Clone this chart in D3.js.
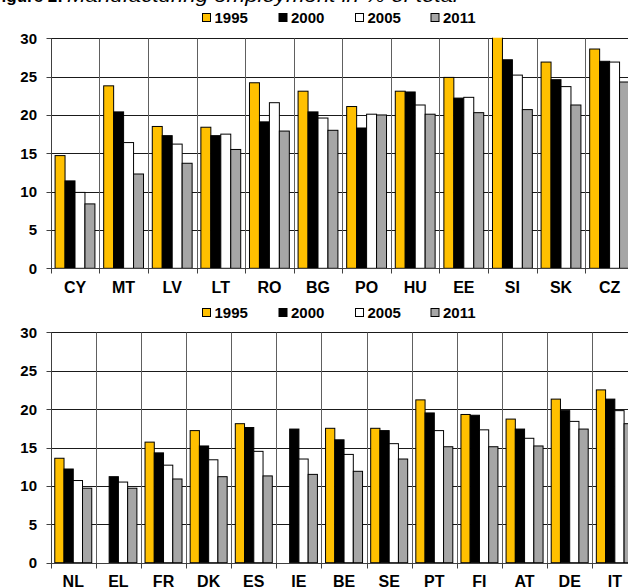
<!DOCTYPE html>
<html>
<head>
<meta charset="utf-8">
<script src="https://cdn.jsdelivr.net/npm/d3@7/dist/d3.min.js"></script>
<style>
  html, body { margin: 0; padding: 0; background: #fff; }
  svg { display: block; overflow: hidden; }
  text { font-family: "Liberation Sans", Arial, sans-serif; }
</style>
</head>
<body>
<div id="chart"></div>
<script>
// ---------- DATA ----------
const seriesNames = ["1995", "2000", "2005", "2011"];
const seriesColors = ["#FFC000", "#000000", "#FFFFFF", "#A6A6A6"];
const yTicks = [0, 5, 10, 15, 20, 25, 30];

const topCategories = ["CY", "MT", "LV", "LT", "RO", "BG", "PO", "HU", "EE", "SI", "SK", "CZ"];
const top1995 = [14.7, 23.8, 18.5, 18.4, 24.2, 23.1, 21.1, 23.1, 24.9, 30.4, 26.9, 28.6];
const top2000 = [11.4, 20.4, 17.3, 17.3, 19.1, 20.4, 18.3, 23.0, 22.2, 27.2, 24.6, 27.0];
const top2005 = [9.9, 16.4, 16.2, 17.5, 21.6, 19.6, 20.1, 21.3, 22.3, 25.2, 23.7, 26.9];
const top2011 = [8.4, 12.3, 13.7, 15.5, 17.9, 18.0, 20.0, 20.1, 20.3, 20.7, 21.3, 24.3];

const bottomCategories = ["NL", "EL", "FR", "DK", "ES", "IE", "BE", "SE", "PT", "FI", "AT", "DE", "IT"];
const bottom1995 = [13.6, null, 15.7, 17.2, 18.1, null, 17.5, 17.5, 21.2, 19.3, 18.7, 21.3, 22.5];
const bottom2000 = [12.2, 11.2, 14.3, 15.2, 17.6, 17.4, 16.0, 17.2, 19.5, 19.2, 17.4, 19.8, 21.3];
const bottom2005 = [10.7, 10.5, 12.7, 13.4, 14.5, 13.5, 14.1, 15.5, 17.2, 17.3, 16.2, 18.4, 19.8];
const bottom2011 = [9.7, 9.7, 10.9, 11.2, 11.3, 11.5, 11.9, 13.5, 15.1, 15.1, 15.2, 17.4, 18.1];

// ---------- DRAW ----------
const W = 628, H = 588;
const svg = d3.select("#chart").append("svg").attr("width", W).attr("height", H);

// Title (mostly cut off at the top of the picture, as in the reference)
svg.append("text").attr("x", 63).attr("y", 1.5).attr("text-anchor", "end")
  .attr("font-size", 17).attr("font-weight", "bold").attr("fill", "#000")
  .text("Figure 2:");
svg.append("text").attr("x", 67).attr("y", 1.5)
  .attr("font-size", 18).attr("font-style", "italic").attr("fill", "#000")
  .attr("textLength", 391).attr("lengthAdjust", "spacingAndGlyphs")
  .text("Manufacturing employment in % of total");

function drawPanel(cfg) {
  const g = svg.append("g");
  const x = d3.scaleBand().domain(cfg.categories).range([cfg.x0, cfg.x1]).padding(0);
  const xs = d3.scaleBand().domain(seriesNames).range([0, x.bandwidth()])
    .paddingInner(0).paddingOuter(0.44);
  const y = d3.scaleLinear().domain([0, 30]).range([cfg.yZero, cfg.yTop]);

  const clipId = "clip" + cfg.id;
  svg.append("clipPath").attr("id", clipId).append("rect")
    .attr("x", cfg.x0).attr("y", cfg.yTop - 0.5)
    .attr("width", cfg.x1 - cfg.x0 + 10).attr("height", cfg.yZero - cfg.yTop + 1);

  // horizontal gridlines
  g.selectAll(".hg").data(yTicks.filter(d => d > 0)).enter().append("line")
    .attr("x1", cfg.x0).attr("x2", cfg.x1)
    .attr("y1", d => Math.round(y(d)) + 0.5).attr("y2", d => Math.round(y(d)) + 0.5)
    .attr("stroke", "#1a1a1a").attr("stroke-width", 1);

  // vertical gridlines at category boundaries
  const bounds = cfg.categories.map(c => x(c)).concat([cfg.x1]);
  g.selectAll(".vg").data(bounds.slice(1)).enter().append("line")
    .attr("x1", d => Math.round(d) + 0.5).attr("x2", d => Math.round(d) + 0.5)
    .attr("y1", Math.round(y(30)) + 0.5).attr("y2", Math.round(y(0)) + 0.5)
    .attr("stroke", "#606060").attr("stroke-width", 1);

  // bars
  const bars = g.append("g").attr("clip-path", `url(#${clipId})`);
  cfg.series.forEach((vals, si) => {
    bars.selectAll(".b" + si)
      .data(cfg.categories.map((c, i) => ({ c, v: vals[i] })).filter(d => d.v != null))
      .enter().append("rect")
      .attr("x", d => x(d.c) + xs(seriesNames[si]))
      .attr("width", xs.bandwidth())
      .attr("y", d => y(Math.min(d.v, 30.6)))
      .attr("height", d => y(0) - y(Math.min(d.v, 30.6)))
      .attr("fill", seriesColors[si])
      .attr("stroke", "#000").attr("stroke-width", 1);
  });

  // y axis line + ticks
  const ax = Math.round(cfg.x0) + 0.5;
  g.append("line").attr("x1", ax).attr("x2", ax)
    .attr("y1", Math.round(y(30)) + 0.5).attr("y2", Math.round(y(0)) + 0.5)
    .attr("stroke", "#404040");
  g.selectAll(".yt").data(yTicks).enter().append("line")
    .attr("x1", ax - 5).attr("x2", ax)
    .attr("y1", d => Math.round(y(d)) + 0.5).attr("y2", d => Math.round(y(d)) + 0.5)
    .attr("stroke", "#404040");
  g.selectAll(".yl").data(yTicks).enter().append("text")
    .attr("x", 37).attr("y", d => y(d)).attr("dy", "0.36em")
    .attr("text-anchor", "end").attr("font-size", 15).attr("font-weight", "bold")
    .attr("fill", "#000").text(d => d);

  // x axis line + ticks
  const zy = Math.round(y(0)) + 0.5;
  g.append("line").attr("x1", cfg.x0).attr("x2", cfg.x1).attr("y1", zy).attr("y2", zy)
    .attr("stroke", "#404040");
  g.selectAll(".xt").data(bounds).enter().append("line")
    .attr("x1", d => Math.round(d) + 0.5).attr("x2", d => Math.round(d) + 0.5)
    .attr("y1", zy).attr("y2", zy + 5).attr("stroke", "#404040");
  g.selectAll(".xl").data(cfg.categories).enter().append("text")
    .attr("x", d => x(d) + x.bandwidth() / 2).attr("y", y(0) + 24.5)
    .attr("text-anchor", "middle").attr("font-size", 16).attr("font-weight", "bold")
    .attr("fill", "#000").text(d => d);

  // legend
  const lx = [202, 278.5, 355, 430.5];
  const lg = svg.append("g");
  seriesNames.forEach((s, i) => {
    lg.append("rect").attr("x", lx[i] + 0.5).attr("y", cfg.legendY - 4)
      .attr("width", 8).attr("height", 8)
      .attr("fill", seriesColors[i]).attr("stroke", "#000").attr("stroke-width", 1);
    lg.append("text").attr("x", lx[i] + 12.5).attr("y", cfg.legendY).attr("dy", "0.36em")
      .attr("font-size", 15).attr("font-weight", "bold").attr("fill", "#000").text(s);
  });
}

drawPanel({
  id: "top", categories: topCategories, series: [top1995, top2000, top2005, top2011],
  x0: 50.7, x1: 633.9, yTop: 38.3, yZero: 268.3, legendY: 17.5
});
drawPanel({
  id: "bottom", categories: bottomCategories, series: [bottom1995, bottom2000, bottom2005, bottom2011],
  x0: 50.7, x1: 637.4, yTop: 332.3, yZero: 562.7, legendY: 312.5
});
</script>
</body>
</html>
